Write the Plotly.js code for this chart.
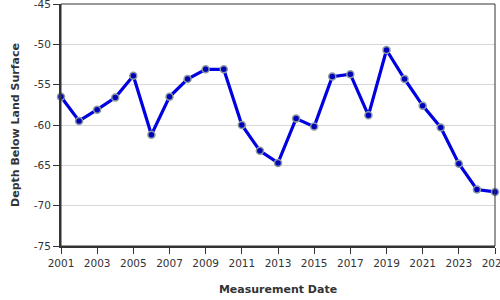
<!DOCTYPE html>
<html><head><meta charset="utf-8">
<script src="https://cdn.plot.ly/plotly-3.0.1.min.js"></script>
<style>html,body{margin:0;padding:0;background:#fff}#c{width:500px;height:300px}</style>
</head><body><div id="c"></div>
<script>
const years = [2001,2002,2003,2004,2005,2006,2007,2008,2009,2010,2011,2012,2013,2014,2015,2016,2017,2018,2019,2020,2021,2022,2023,2024,2025];
const depth = [-56.5,-59.5,-58.1,-56.6,-53.9,-61.2,-56.5,-54.3,-53.1,-53.1,-60.0,-63.2,-64.7,-59.2,-60.2,-54.0,-53.7,-58.8,-50.7,-54.3,-57.6,-60.3,-64.8,-68.0,-68.3];
const xTicks = [2001,2003,2005,2007,2009,2011,2013,2015,2017,2019,2021,2023,2025];
const yTicks = [-75,-70,-65,-60,-55,-50,-45];

const font = {family:'DejaVu Sans, Verdana, sans-serif', size:10.5, color:'#333'};
const tfont = {family:'DejaVu Sans, Verdana, sans-serif', size:11, color:'#333', weight:'bold'};
Plotly.newPlot('c', [{
  x: years, y: depth, type:'scatter', mode:'lines+markers',
  line:{color:'#0000e0', width:3.2},
  marker:{color:'#0000bb', size:7, line:{color:'#8a9aa0', width:1.5}},
  cliponaxis:false, hoverinfo:'none'
}], {
  width:500, height:300,
  margin:{l:61, r:5, t:4, b:54},
  paper_bgcolor:'#fff', plot_bgcolor:'#fff',
  showlegend:false,
  font: font,
  xaxis:{range:[2001,2025], tickvals:xTicks, ticktext:xTicks.map(String),
    showgrid:false, zeroline:false, showline:true, linecolor:'#333', linewidth:2,
    ticks:'outside', ticklen:6, tickcolor:'#333', tickwidth:1, tickfont:font,
    ticklabeloverflow:'allow',
    title:{text:'Measurement Date', font:tfont, standoff:18}},
  yaxis:{range:[-75,-45], tickvals:yTicks, ticktext:yTicks.map(String),
    showgrid:true, gridcolor:'#d8d8d8', gridwidth:1, zeroline:false,
    showline:true, linecolor:'#333', linewidth:2,
    ticks:'outside', ticklen:6, tickcolor:'#333', tickwidth:1, tickfont:font,
    ticklabeloverflow:'allow',
    title:{text:'Depth Below Land Surface', font:tfont, standoff:12}},
  shapes:[{type:'rect', xref:'paper', yref:'paper', x0:0, x1:1, y0:0, y1:1, line:{color:'#333', width:1}, layer:'above'}]
}, {staticPlot:true});
</script></body></html>
